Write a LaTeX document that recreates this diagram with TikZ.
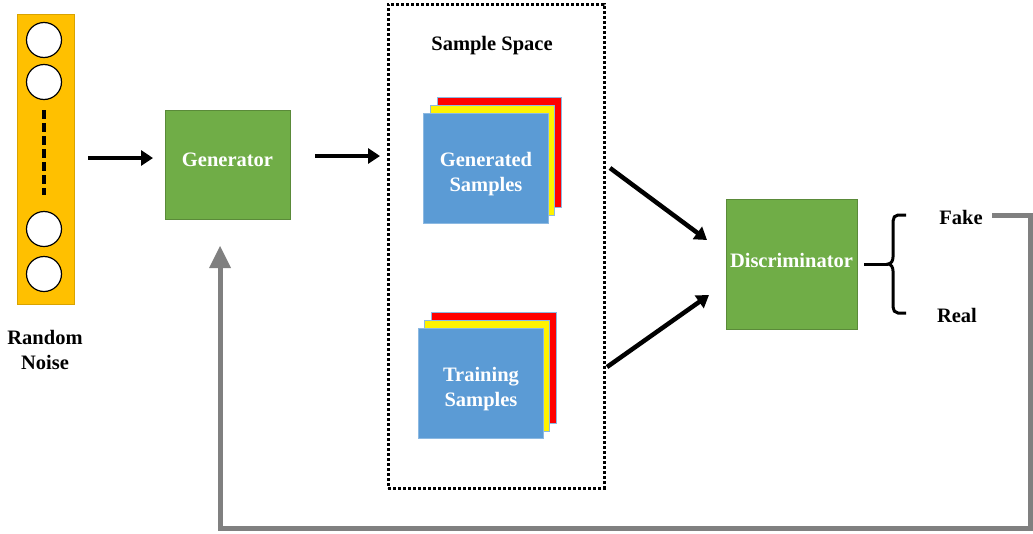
\documentclass[tikz,border=0pt]{standalone}
\usepackage{fontspec}
\setmainfont{Liberation Serif}
\usetikzlibrary{arrows.meta}
\definecolor{gold}{HTML}{FFC000}
\definecolor{ggreen}{HTML}{70AD47}
\definecolor{gblue}{HTML}{5B9BD5}
\definecolor{fgray}{HTML}{808080}
\tikzset{
  lbl/.style={font=\bfseries\fontsize{20.5}{25}\selectfont, align=center, inner sep=0pt},
  wlbl/.style={lbl, text=white},
  greenbox/.style={draw=ggreen!80!black, line width=0.6pt, fill=ggreen},
  neuron/.style={circle, draw=black, line width=1.2pt, fill=white, minimum size=35pt, inner sep=0pt},
  sheet/.style={draw=gblue!70!white, line width=0.8pt},
  flow/.style={line width=4.5pt, -{Triangle[length=12pt,width=15pt]}},
  fb/.style={fgray, line width=5pt},
}
\begin{document}
\begin{tikzpicture}[x=1pt,y=-1pt]
\useasboundingbox (0,0) rectangle (1033,533);
% noise vector
\node[draw=gold!85!black, fill=gold, line width=0.6pt, minimum width=57pt, minimum height=290pt, inner sep=0pt] (noise) at (45.5,159) {};
\node[neuron] (n1) at (44,40) {};
\node[neuron] (n2) at (44,82) {};
\node[neuron] (n3) at (44,229) {};
\node[neuron] (n4) at (44,274) {};
\coordinate (d1) at (44,110);
\coordinate (d2) at (44,195);
\draw[line width=3.5pt, dash pattern=on 9pt off 4pt] (d1) -- (d2);
\node[lbl] (noiselbl) at (45,350) {Random\\Noise};
% generator
\node[greenbox, minimum width=125pt, minimum height=109pt, inner sep=0pt] (gen) at (227.5,164.5) {};
\node[wlbl] (genlbl) at (227.5,160) {Generator};
% sample space
\node[draw=black, line width=3pt, dash pattern=on 3pt off 2pt, minimum width=216pt, minimum height=484pt, inner sep=0pt] (space) at (496,246) {};
\node[lbl] (spacelbl) at (492,46) {Sample Space};
% generated samples stack
\draw[sheet, fill=red] (437,97) rectangle (561,207);
\draw[sheet, fill=yellow] (430,105) rectangle (554,215);
\draw[sheet, fill=gblue] (423,113) rectangle (548,223);
\node[wlbl] (gs) at (486,174) {Generated\\Samples};
% training samples stack
\draw[sheet, fill=red] (431,312) rectangle (556,423);
\draw[sheet, fill=yellow] (424,320) rectangle (549,431);
\draw[sheet, fill=gblue] (418,328) rectangle (543,438);
\node[wlbl] (ts) at (481,389) {Training\\Samples};
% discriminator
\node[greenbox, minimum width=131pt, minimum height=130pt, inner sep=0pt] (disc) at (791.5,264) {};
\node[wlbl] (disclbl) at (791.5,260) {Discriminator};
% outputs
\node[lbl] (fake) at (961,217) {Fake};
\node[lbl] (real) at (957,315) {Real};
% brace
\coordinate (b0) at (864,264);
\coordinate (btip) at (888,264);
\draw[line width=3pt] (b0) -- (btip);
\draw[line width=3pt] (906,215) -- (898,215) to[out=180,in=90] (893,221) -- (893,257) to[out=-90,in=0] (btip) to[out=0,in=90] (893,271) -- (893,307) to[out=-90,in=180] (898,313) -- (906,313);
% arrows
\coordinate (a1s) at (88,158);
\coordinate (a1e) at (153,158);
\draw[flow] (a1s) -- (a1e);
\coordinate (a2s) at (315,156);
\coordinate (a2e) at (380,156);
\draw[flow] (a2s) -- (a2e);
\coordinate (a3s) at (610,168);
\coordinate (a3e) at (707,240);
\draw[flow] (a3s) -- (a3e);
\coordinate (a4s) at (607,367);
\coordinate (a4e) at (709,295);
\draw[flow] (a4s) -- (a4e);
% feedback
\coordinate (f0) at (992,215);
\coordinate (f1) at (1030,215);
\coordinate (f2) at (1030,528);
\coordinate (f3) at (220,528);
\coordinate (f4) at (220,264);
\draw[fb] (f0) -- (f1) -- (f2) -- (f3) -- (f4);
\fill[fgray] (220,246) -- (209,268) -- (231,268) -- cycle;
\end{tikzpicture}
\end{document}
